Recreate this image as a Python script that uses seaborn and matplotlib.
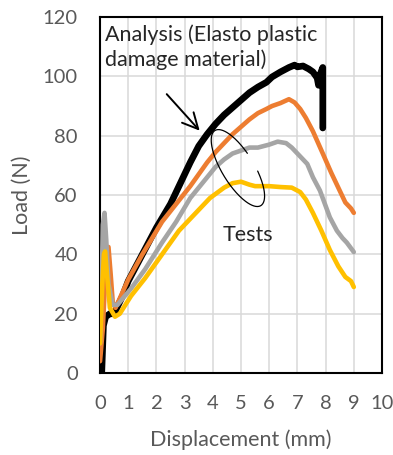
import numpy as np
import pandas as pd
import matplotlib
matplotlib.use("Agg")
import matplotlib.pyplot as plt
import seaborn as sns

# Load-displacement curves
analysis_x = [0, 0.06, 0.12, 0.2, 0.35, 0.5, 0.8, 1.0, 1.5, 2.0, 2.5, 2.8, 3.2, 3.5, 3.8, 4.1, 4.4,
              4.7, 5.0, 5.3, 5.6, 5.9, 6.1, 6.4, 6.7, 6.9, 7.0, 7.2, 7.4, 7.55, 7.7, 7.75, 7.8, 7.9, 7.9]
analysis_y = [0, 0, 16, 19, 20, 20, 26, 31, 40, 49, 57, 63, 71, 76.5, 80.5, 84, 87,
              89.5, 92, 94.5, 96.4, 98, 99.8, 101.5, 103, 103.8, 103.2, 103.5, 102.5, 101.5, 99.5, 97, 100.5, 103, 82.6]

test1_x = [0, 0.1, 0.2, 0.3, 0.38, 0.45, 0.55, 1.0, 1.5, 2.2, 2.7, 3.2, 3.5, 3.8, 4.1, 4.4, 4.7, 5.0,
           5.3, 5.6, 5.9, 6.1, 6.4, 6.7, 6.9, 7.1, 7.3, 7.55, 7.9, 8.2, 8.5, 8.7, 8.9, 9.0]
test1_y = [4, 15, 35, 42.5, 33, 24, 22, 31.5, 40, 51, 57, 63, 67, 71, 74.5, 77.5, 80.5, 83,
           85.5, 87.6, 89, 90, 91, 92.3, 91.2, 89, 86, 81.5, 74, 67.5, 61.5, 57.5, 55.5, 54]

test2_x = [0, 0.06, 0.1, 0.16, 0.22, 0.3, 0.45, 0.62, 1.1, 1.6, 2.2, 2.7, 3.2, 3.5, 3.8, 4.1, 4.4, 4.7,
           5.0, 5.3, 5.6, 6.0, 6.3, 6.6, 6.8, 7.0, 7.35, 7.55, 7.8, 8.15, 8.4, 8.6, 8.75, 9.0]
test2_y = [10, 30, 50, 54, 45, 30, 23, 23, 28.5, 35, 44, 51, 59, 62.5, 66, 69.5, 72, 74,
           75, 76, 76, 77, 78, 77.5, 76, 74, 70.5, 66, 61.5, 52.5, 48, 45.5, 44, 40.8]

test3_x = [0, 0.08, 0.14, 0.18, 0.25, 0.35, 0.53, 0.7, 1.1, 1.6, 2.2, 2.8, 3.4, 3.9, 4.4, 4.7, 5.0,
           5.3, 5.5, 6.0, 6.4, 6.8, 7.1, 7.3, 7.55, 7.85, 8.15, 8.45, 8.7, 8.9, 9.0]
test3_y = [10, 30, 40, 41, 33, 22, 19, 20, 26, 32, 40, 48, 54, 59, 62.5, 64, 64.5,
           63.5, 63, 63, 62.7, 62.5, 61, 58.5, 54, 48, 41.5, 36, 32.4, 31, 29]

x_ticks = list(range(0, 11))
y_ticks = list(range(0, 121, 20))

sns.set_style("white")
plt.rcParams["font.family"] = ["Lato", "DejaVu Sans"]

fig = plt.figure(figsize=(3.93, 4.55), dpi=100)
ax = fig.add_axes([0.2545, 0.18, 0.7175, 0.7826])

curves = [(analysis_x, analysis_y, "black", 4.8),
          (test1_x, test1_y, "#ED7D31", 3.3),
          (test2_x, test2_y, "#A5A5A5", 3.3),
          (test3_x, test3_y, "#FFC000", 3.3)]
for xs, ys, col, lw in curves:
    d = pd.DataFrame({"disp": xs, "load": ys})
    sns.lineplot(data=d, x="disp", y="load", sort=False, estimator=None, color=col, lw=lw,
                 solid_joinstyle="round", solid_capstyle="round", ax=ax, zorder=3)

ax.set_xlim(0, 10)
ax.set_ylim(0, 120)
ax.set_xticks(x_ticks)
ax.set_yticks(y_ticks)
ax.grid(True, color="#d9d9d9", lw=1.1)
for s in ax.spines.values():
    s.set_visible(True)
    s.set_color("black")
    s.set_linewidth(1.5)
ax.tick_params(labelsize=14.5, colors="#595959", length=0, pad=16)
ax.set_xlabel("Displacement (mm)", fontsize=15.5, color="#595959", labelpad=12)
ax.set_ylabel("Load (N)", fontsize=15.5, color="#595959", labelpad=8)

ax.text(0.18, 117.5, "Analysis (Elasto plastic\ndamage material)", fontsize=15.5,
        va="top", ha="left", linespacing=1.25, zorder=5)
ax.text(5.25, 46.5, "Tests", fontsize=15.5, ha="center", va="center", zorder=5)
ax.annotate("", xy=(3.6, 81), xytext=(2.3, 94.7),
            arrowprops=dict(arrowstyle="->", lw=1.4, color="black", mutation_scale=28), zorder=5)

# thin open ellipse around the test curves (drawn in pixel space)
cx, cy = ax.transData.transform((4.89, 69.1))
th = np.deg2rad(-58.6)
t = np.deg2rad(np.linspace(100, 433, 200))
a, b = 44, 16
ex = cx + a * np.cos(t) * np.cos(th) - b * np.sin(t) * np.sin(th)
ey = cy + a * np.cos(t) * np.sin(th) + b * np.sin(t) * np.cos(th)
pts = ax.transData.inverted().transform(np.column_stack([ex, ey]))
ax.plot(pts[:, 0], pts[:, 1], color="black", lw=0.9, zorder=5)

fig.savefig("out.png", dpi=100)
